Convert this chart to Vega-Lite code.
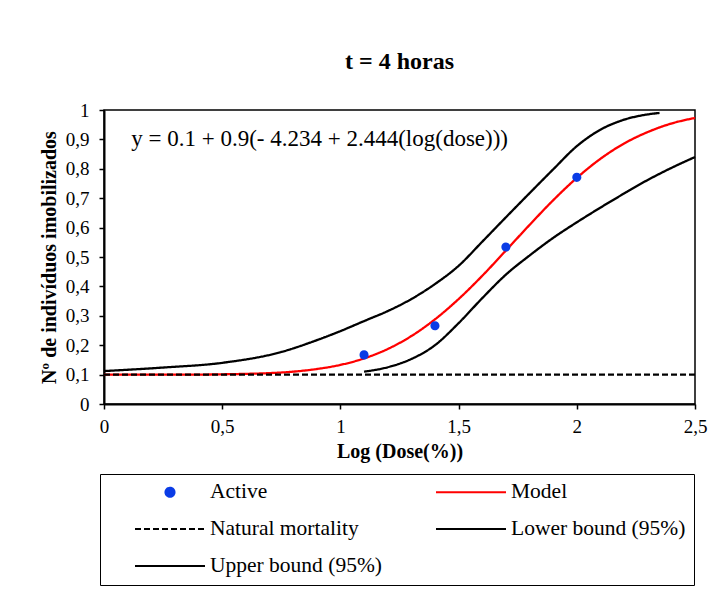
{
  "$schema": "https://vega.github.io/schema/vega-lite/v6.json",
  "autosize": "none",
  "width": 591,
  "height": 294,
  "padding": {"left": 104, "top": 110, "right": 21, "bottom": 189},
  "background": "white",
  "config": {
    "font": "Liberation Serif",
    "view": {"stroke": "#000000", "strokeWidth": 1.5},
    "axis": {"grid": false, "domainColor": "#000000", "domainWidth": 2, "tickColor": "#000000", "tickWidth": 1.5, "tickSize": 5, "labelColor": "#000000", "labelFont": "Liberation Serif", "labelFontSize": 19, "titleColor": "#000000", "titleFont": "Liberation Serif", "titleFontSize": 20, "titleFontWeight": "bold"}
  },
  "title": {"text": "t = 4 horas", "font": "Liberation Serif", "fontSize": 24, "fontWeight": "bold", "color": "#000000", "offset": 27, "anchor": "middle"},
  "datasets": {
    "curves": [
      {"series": "Model", "x": 0, "y": 0.1},
      {"series": "Model", "x": 0.2, "y": 0.1},
      {"series": "Model", "x": 0.4, "y": 0.1},
      {"series": "Model", "x": 0.5, "y": 0.101},
      {"series": "Model", "x": 0.6, "y": 0.1025},
      {"series": "Model", "x": 0.7, "y": 0.105},
      {"series": "Model", "x": 0.8, "y": 0.11},
      {"series": "Model", "x": 0.9, "y": 0.119},
      {"series": "Model", "x": 1.0, "y": 0.133},
      {"series": "Model", "x": 1.1, "y": 0.155},
      {"series": "Model", "x": 1.2, "y": 0.187},
      {"series": "Model", "x": 1.3, "y": 0.231},
      {"series": "Model", "x": 1.4, "y": 0.288},
      {"series": "Model", "x": 1.5, "y": 0.357},
      {"series": "Model", "x": 1.6, "y": 0.436},
      {"series": "Model", "x": 1.7, "y": 0.522},
      {"series": "Model", "x": 1.8, "y": 0.609},
      {"series": "Model", "x": 1.9, "y": 0.693},
      {"series": "Model", "x": 2.0, "y": 0.769},
      {"series": "Model", "x": 2.1, "y": 0.834},
      {"series": "Model", "x": 2.2, "y": 0.886},
      {"series": "Model", "x": 2.3, "y": 0.925},
      {"series": "Model", "x": 2.4, "y": 0.954},
      {"series": "Model", "x": 2.5, "y": 0.973},
      {"series": "Upper bound (95%)", "x": 0, "y": 0.112},
      {"series": "Upper bound (95%)", "x": 0.25, "y": 0.124},
      {"series": "Upper bound (95%)", "x": 0.5, "y": 0.14},
      {"series": "Upper bound (95%)", "x": 0.75, "y": 0.177},
      {"series": "Upper bound (95%)", "x": 0.9, "y": 0.217},
      {"series": "Upper bound (95%)", "x": 1.0, "y": 0.248},
      {"series": "Upper bound (95%)", "x": 1.1, "y": 0.282},
      {"series": "Upper bound (95%)", "x": 1.2, "y": 0.316},
      {"series": "Upper bound (95%)", "x": 1.3, "y": 0.357},
      {"series": "Upper bound (95%)", "x": 1.4, "y": 0.408},
      {"series": "Upper bound (95%)", "x": 1.5, "y": 0.47},
      {"series": "Upper bound (95%)", "x": 1.6, "y": 0.552},
      {"series": "Upper bound (95%)", "x": 1.7, "y": 0.635},
      {"series": "Upper bound (95%)", "x": 1.8, "y": 0.717},
      {"series": "Upper bound (95%)", "x": 1.9, "y": 0.798},
      {"series": "Upper bound (95%)", "x": 2.0, "y": 0.877},
      {"series": "Upper bound (95%)", "x": 2.1, "y": 0.933},
      {"series": "Upper bound (95%)", "x": 2.2, "y": 0.967},
      {"series": "Upper bound (95%)", "x": 2.3, "y": 0.985},
      {"series": "Upper bound (95%)", "x": 2.35, "y": 0.99},
      {"series": "Lower bound (95%)", "x": 1.1, "y": 0.11},
      {"series": "Lower bound (95%)", "x": 1.2, "y": 0.125},
      {"series": "Lower bound (95%)", "x": 1.3, "y": 0.153},
      {"series": "Lower bound (95%)", "x": 1.4, "y": 0.2},
      {"series": "Lower bound (95%)", "x": 1.5, "y": 0.275},
      {"series": "Lower bound (95%)", "x": 1.6, "y": 0.36},
      {"series": "Lower bound (95%)", "x": 1.7, "y": 0.44},
      {"series": "Lower bound (95%)", "x": 1.8, "y": 0.505},
      {"series": "Lower bound (95%)", "x": 1.9, "y": 0.565},
      {"series": "Lower bound (95%)", "x": 2.0, "y": 0.618},
      {"series": "Lower bound (95%)", "x": 2.1, "y": 0.668},
      {"series": "Lower bound (95%)", "x": 2.2, "y": 0.716},
      {"series": "Lower bound (95%)", "x": 2.3, "y": 0.762},
      {"series": "Lower bound (95%)", "x": 2.4, "y": 0.803},
      {"series": "Lower bound (95%)", "x": 2.5, "y": 0.84},
      {"series": "Natural mortality", "x": 0, "y": 0.1},
      {"series": "Natural mortality", "x": 2.5, "y": 0.1}
    ],
    "points": [
      {"series": "Active", "x": 1.1, "y": 0.167},
      {"series": "Active", "x": 1.4, "y": 0.266},
      {"series": "Active", "x": 1.7, "y": 0.534},
      {"series": "Active", "x": 2.0, "y": 0.771}
    ],
    "equation": [
      {"x": 0.115, "y": 0.9, "label": "y = 0.1 + 0.9(- 4.234 + 2.444(log(dose)))"}
    ]
  },
  "encoding": {
    "x": {"field": "x", "type": "quantitative", "scale": {"domain": [0, 2.5], "nice": false, "zero": false},
      "axis": {"title": "Log (Dose(%))", "values": [0, 0.5, 1, 1.5, 2, 2.5], "labelExpr": "replace(format(datum.value, '~g'), '.', ',')", "labelPadding": 8, "titlePadding": 5, "labelFlush": false}},
    "y": {"field": "y", "type": "quantitative", "scale": {"domain": [0, 1], "nice": false},
      "axis": {"title": "Nº de indivíduos imobilizados", "values": [0, 0.1, 0.2, 0.3, 0.4, 0.5, 0.6, 0.7, 0.8, 0.9, 1], "labelExpr": "replace(format(datum.value, '~g'), '.', ',')", "labelPadding": 10, "titlePadding": 6, "labelFlush": false}}
  },
  "layer": [
    {
      "data": {"name": "curves"},
      "mark": {"type": "line", "strokeWidth": 2.3, "clip": false, "interpolate": "monotone"},
      "encoding": {
        "color": {"field": "series", "type": "nominal",
          "scale": {"domain": ["Active", "Natural mortality", "Upper bound (95%)", "Model", "Lower bound (95%)"], "range": ["#0A3CE6", "#000000", "#000000", "#FF0000", "#000000"]},
          "legend": {"title": null, "orient": "none", "legendX": -4, "legendY": 364, "columns": 2, "columnPadding": 27, "rowPadding": 15, "clipHeight": 20, "padding": 8, "strokeColor": "#000000", "symbolSize": 4900, "symbolStrokeWidth": 2, "symbolOffset": 26, "labelOffset": 4, "labelFont": "Liberation Serif", "labelFontSize": 21.5, "labelColor": "#000000", "labelLimit": 300}},
        "strokeDash": {"field": "series", "type": "nominal",
          "scale": {"domain": ["Active", "Natural mortality", "Upper bound (95%)", "Model", "Lower bound (95%)"], "range": [[1, 0], [6, 3], [1, 0], [1, 0], [1, 0]]},
          "legend": {"title": null}}
      }
    },
    {
      "data": {"name": "points"},
      "mark": {"type": "point", "filled": true, "opacity": 1, "size": 4900},
      "encoding": {
        "color": {"field": "series", "type": "nominal"},
        "shape": {"field": "series", "type": "nominal",
          "scale": {"domain": ["Active", "Natural mortality", "Upper bound (95%)", "Model", "Lower bound (95%)"], "range": [
            "M-0.13,0A0.13,0.13,0,1,0,0.13,0A0.13,0.13,0,1,0,-0.13,0M-0.09,0A0.09,0.09,0,1,0,0.09,0A0.09,0.09,0,1,0,-0.09,0M-0.05,0A0.05,0.05,0,1,0,0.05,0A0.05,0.05,0,1,0,-0.05,0M-0.015,0A0.015,0.015,0,1,0,0.015,0A0.015,0.015,0,1,0,-0.015,0",
            "M-1,0H1", "M-1,0H1", "M-1,0H1", "M-1,0H1"]},
          "legend": {"title": null}}
      }
    },
    {
      "data": {"name": "equation"},
      "mark": {"type": "text", "align": "left", "baseline": "middle", "font": "Liberation Serif", "fontSize": 23, "color": "#000000"},
      "encoding": {"text": {"field": "label", "type": "nominal"}}
    }
  ]
}
